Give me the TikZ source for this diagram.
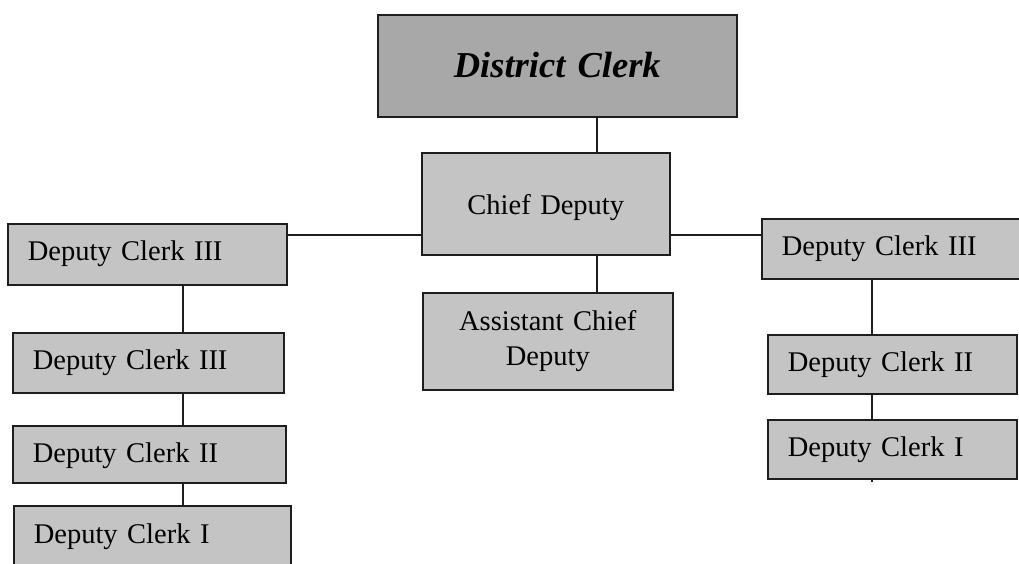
\documentclass[tikz,border=0pt]{standalone}
\usepackage{fontspec}
\setmainfont{Liberation Serif}
\definecolor{boxfill}{HTML}{C4C4C4}
\definecolor{topfill}{HTML}{A8A8A8}
\definecolor{edgec}{HTML}{1E1E1E}
\begin{document}
\begin{tikzpicture}[x=1pt,y=-1pt,
  box/.style={draw=edgec, line width=1.6pt, fill=boxfill, inner xsep=20pt, inner ysep=0pt,
    font=\fontsize{28.5}{34.7}\selectfont, anchor=north west},
  lbox/.style={box, align=left},
  cbox/.style={box, align=center},
  conn/.style={draw=edgec, line width=1.8pt}]
\useasboundingbox (0,0) rectangle (1019,563);
\fill[white] (0,0) rectangle (1019,563);

% top and centre column
\node[cbox, fill=topfill, text width=319pt, text height=63pt, text depth=39pt,
  font=\fontsize{36.5}{40}\selectfont\bfseries\itshape] (dc) at (377,14) {District Clerk};
\node[cbox, text width=208pt, text height=62pt, text depth=40pt] (chief) at (421,152) {Chief Deputy};
\node[cbox, text width=210pt, minimum height=97pt] (acd) at (422,292) {Assistant Chief\\Deputy};

% left column
\node[lbox, text width=239pt, text height=36.5pt, text depth=24.5pt] (l1) at (7,223) {Deputy Clerk III};
\node[lbox, text width=231pt, text height=37pt, text depth=23pt] (l2) at (12,332) {Deputy Clerk III};
\node[lbox, text width=233pt, text height=37pt, text depth=20pt] (l3) at (12,425) {Deputy Clerk II};
\node[lbox, text width=237pt, text height=38pt, text depth=27pt] (l4) at (13,505) {Deputy Clerk I};

% right column
\node[lbox, text width=229pt, text height=37pt, text depth=23pt] (r1) at (761,218) {Deputy Clerk III};
\node[lbox, text width=209pt, text height=37pt, text depth=22pt] (r2) at (767,334) {Deputy Clerk II};
\node[lbox, text width=209pt, text height=36.7pt, text depth=22.3pt] (r3) at (767,419) {Deputy Clerk I};

% connector guides
\coordinate (vx) at (597,0);
\coordinate (hy) at (0,235);
\coordinate (lx) at (183,0);
\coordinate (rx) at (872,0);
\coordinate (tick) at (872,482);

\draw[conn] (dc.south -| vx) -- (chief.north -| vx);
\draw[conn] (chief.south -| vx) -- (acd.north -| vx);
\draw[conn] (chief.west |- hy) -- (l1.east |- hy);
\draw[conn] (chief.east |- hy) -- (r1.west |- hy);
\draw[conn] (l1.south -| lx) -- (l2.north -| lx);
\draw[conn] (l2.south -| lx) -- (l3.north -| lx);
\draw[conn] (l3.south -| lx) -- (l4.north -| lx);
\draw[conn] (r1.south -| rx) -- (r2.north -| rx);
\draw[conn] (r2.south -| rx) -- (r3.north -| rx);
\draw[conn] (r3.south -| rx) -- (tick);
\end{tikzpicture}
\end{document}
